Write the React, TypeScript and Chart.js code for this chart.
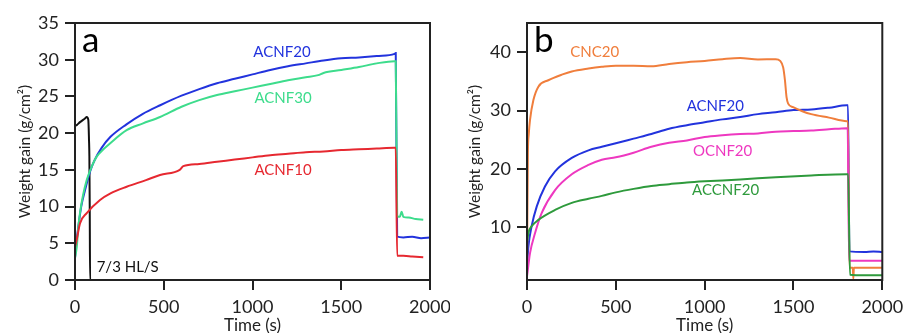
import React, { useEffect, useRef } from "react";
import { Chart, registerables } from "chart.js";
Chart.register(...registerables);

const FONT = "Lato, 'Open Sans', sans-serif";
const INK = "#222";

type P = [number, number];

// shared ticks
const xTicks = [0, 500, 1000, 1500, 2000];
const yTicksA = [0, 5, 10, 15, 20, 25, 30, 35];
const yTicksB = [10, 20, 30, 40];

// Panel a series (time s, weight gain g/cm2)
const acnf20A: P[] = [[0,3],[5,4.5],[12,6],[20,7.5],[35,10],[56,12.2],[85,14.8],[110,16.3],[150,18.0],[200,19.5],[290,21.2],[380,22.6],[480,23.8],[600,25.1],[700,26.0],[800,26.8],[900,27.4],[1000,28.0],[1100,28.6],[1200,29.1],[1300,29.5],[1400,29.9],[1500,30.2],[1600,30.3],[1700,30.5],[1800,30.8],[1807,30.9],[1815,5.9],[1850,5.8],[1900,5.9],[1950,5.7],[2000,5.8]];
const acnf30A: P[] = [[0,3],[10,4.5],[18,7],[28,9.1],[45,11.5],[66,13.6],[90,15.2],[122,16.8],[160,17.8],[197,18.6],[291,20.4],[380,21.3],[479,22.2],[600,23.6],[700,24.5],[800,25.2],[900,25.7],[1000,26.2],[1100,26.7],[1200,27.2],[1300,27.6],[1370,27.9],[1400,28.2],[1500,28.6],[1600,29.0],[1700,29.5],[1800,29.8],[1807,29.8],[1815,8.7],[1830,8.6],[1840,9.3],[1850,8.6],[1880,8.5],[1920,8.3],[1962,8.2]];
const acnf10A: P[] = [[0,4.5],[9,5.4],[28,7.7],[66,9.1],[141,10.9],[200,11.8],[291,12.7],[400,13.6],[479,14.3],[590,15.0],[610,15.5],[700,15.8],[800,16.1],[900,16.4],[1000,16.7],[1100,17.0],[1200,17.2],[1300,17.4],[1400,17.5],[1500,17.7],[1600,17.8],[1700,17.9],[1800,18.0],[1807,18.0],[1815,3.3],[1850,3.3],[1900,3.2],[1962,3.1]];
const hlsA: P[] = [[0,21],[10,21.1],[28,21.5],[56,22.0],[66,22.2],[75,21.8],[79,19],[81,16.8],[83,10],[85,0],[197,0]];

// Panel b series
const cnc20B: P[] = [[0,1.6],[2,12],[5,22.7],[10,26],[17,28.4],[36,31.8],[64,34.1],[120,35.2],[200,36.2],[252,36.7],[346,37.2],[421,37.5],[500,37.7],[600,37.7],[700,37.6],[800,38.0],[900,38.3],[1000,38.5],[1100,38.8],[1200,39.0],[1300,38.75],[1400,38.8],[1425,38.5],[1442,37.4],[1452,35.2],[1461,32.3],[1470,31.2],[1498,30.6],[1550,29.9],[1600,29.4],[1700,28.8],[1800,28.2],[1807,28.2],[1815,3.1],[1834,3.1],[1837,1.2],[1840,3.1],[1900,3.1],[2000,3.1]];
const acnf20B: P[] = [[0,3.3],[8,6.75],[26,10.2],[55,13.6],[101,17],[158,19.6],[252,21.9],[346,23.2],[421,23.8],[500,24.4],[600,25.2],[700,26.0],[800,26.9],[900,27.5],[1000,28.0],[1100,28.5],[1200,28.9],[1300,29.4],[1400,29.7],[1500,30.1],[1600,30.2],[1700,30.5],[1800,30.9],[1807,30.9],[1815,5.9],[1900,5.8],[1950,5.9],[2000,5.8]];
const ocnf20B: P[] = [[0,1.6],[17,5.6],[45,9.0],[83,12.5],[158,16.4],[252,19.1],[346,20.7],[421,21.6],[500,22.0],[600,22.8],[700,23.8],[800,24.5],[900,24.9],[1000,25.5],[1100,25.8],[1200,26.0],[1300,26.1],[1400,26.4],[1500,26.5],[1600,26.6],[1700,26.8],[1800,27.0],[1805,27.0],[1813,4.3],[1900,4.3],[2000,4.3]];
const accnf20B: P[] = [[0,7.5],[10,9.3],[26,10.2],[64,11.3],[158,13.0],[252,14.2],[346,14.9],[421,15.4],[500,16.0],[600,16.6],[700,17.1],[800,17.4],[900,17.7],[1000,17.9],[1200,18.2],[1400,18.6],[1600,18.9],[1800,19.1],[1808,19.1],[1818,1.9],[1900,1.8],[2000,1.8]];

const C = {
  blue: "#2233dd",
  mint: "#3ddc8c",
  red: "#e62830",
  black: "#111111",
  orange: "#f07e3c",
  magenta: "#ee38c0",
  green: "#2e9a3c",
};

type Lbl = { text: string; color: string; t: number; w: number; align: CanvasTextAlign };

const labelsA: Lbl[] = [
  { text: "ACNF20", color: C.blue, t: 1166, w: 31.0, align: "center" },
  { text: "ACNF30", color: C.mint, t: 1172, w: 24.8, align: "center" },
  { text: "ACNF10", color: C.red, t: 1172, w: 15.0, align: "center" },
  { text: "7/3 HL/S", color: C.black, t: 122, w: 1.8, align: "left" },
];
const labelsB: Lbl[] = [
  { text: "CNC20", color: C.orange, t: 381, w: 40.0, align: "center" },
  { text: "ACNF20", color: C.blue, t: 1060, w: 30.7, align: "center" },
  { text: "OCNF20", color: C.magenta, t: 1101, w: 23.0, align: "center" },
  { text: "ACCNF20", color: C.green, t: 1118, w: 16.4, align: "center" },
];

const framePlugin = {
  id: "frame",
  afterDatasetsDraw(chart: any, _args: any, opts: any) {
    const { ctx, chartArea: a, scales } = chart;
    ctx.save();
    ctx.strokeStyle = INK;
    ctx.lineWidth = 2;
    ctx.strokeRect(a.left, a.top, a.right - a.left, a.bottom - a.top);
    ctx.font = `15px ${FONT}`;
    ctx.textBaseline = "middle";
    for (const l of opts.labels as Lbl[]) {
      ctx.fillStyle = l.color;
      ctx.textAlign = l.align;
      ctx.fillText(l.text, scales.x.getPixelForValue(l.t), scales.y.getPixelForValue(l.w));
    }
    ctx.fillStyle = "#000";
    ctx.textAlign = "left";
    ctx.textBaseline = "alphabetic";
    ctx.font = `35px ${FONT}`;
    ctx.fillText(opts.letter, a.left + 7, a.top + 29);
    ctx.restore();
  },
};

function ds(pts: P[], color: string) {
  return {
    data: pts.map(([x, y]) => ({ x, y })),
    borderColor: color,
    backgroundColor: color,
    borderWidth: 2,
    pointRadius: 0,
    fill: false,
    cubicInterpolationMode: "monotone" as const,
  };
}

function makeConfig(datasets: any[], yMin: number, yMax: number, yTicks: number[], yWidth: number, labels: Lbl[], letter: string, padRight: number): any {
  const tickFont = { family: FONT, size: 18 };
  const grid = { display: true, drawOnChartArea: false, drawTicks: true, tickLength: 10, color: INK, lineWidth: 2 };
  const plain = (v: any) => String(v);
  return {
    type: "line",
    data: { datasets },
    plugins: [framePlugin],
    options: {
      animation: false,
      responsive: false,
      devicePixelRatio: 1,
      layout: { padding: { left: 0, right: padRight, top: 23, bottom: 0 } },
      plugins: { legend: { display: false }, tooltip: { enabled: false }, frame: { labels, letter } },
      scales: {
        x: {
          type: "linear",
          min: 0,
          max: 2000,
          afterBuildTicks: (s: any) => { s.ticks = xTicks.map((v) => ({ value: v })); },
          ticks: { font: tickFont, color: INK, padding: 6, maxRotation: 0, autoSkip: false, callback: plain },
          grid,
          border: { display: true, color: INK, width: 2 },
          title: { display: true, text: "Time (s)", color: INK, font: { family: FONT, size: 17, lineHeight: 1 }, padding: { top: 0, bottom: -1 } },
          afterFit: (s: any) => { s.height = 53; s.paddingLeft = 0; s.paddingRight = 0; },
        },
        y: {
          type: "linear",
          min: yMin,
          max: yMax,
          afterBuildTicks: (s: any) => { s.ticks = yTicks.map((v) => ({ value: v })); },
          ticks: { font: tickFont, color: INK, padding: 6, autoSkip: false, callback: plain },
          grid,
          border: { display: true, color: INK, width: 2 },
          title: { display: true, text: "Weight gain (g/cm²)", color: INK, font: { family: FONT, size: 15.5, lineHeight: 1 }, padding: { top: 17, bottom: 0 } },
          afterFit: (s: any) => { s.width = yWidth; s.paddingTop = 0; s.paddingBottom = 0; },
        },
      },
    },
  };
}

function Panel({ config, left, width }: { config: () => any; left: number; width: number }) {
  const ref = useRef<HTMLCanvasElement>(null);
  useEffect(() => {
    if (!ref.current) return;
    const chart = new Chart(ref.current, config());
    return () => chart.destroy();
  }, []);
  return (
    <div style={{ position: "absolute", left, top: 0, width, height: 333 }}>
      <canvas ref={ref} width={width} height={333} style={{ display: "block" }} />
    </div>
  );
}

export default function App() {
  const cfgA = () =>
    makeConfig(
      [ds(acnf10A, C.red), ds(acnf30A, C.mint), ds(acnf20A, C.blue), ds(hlsA, C.black)],
      0, 35, yTicksA, 75, labelsA, "a", 20
    );
  const cfgB = () =>
    makeConfig(
      [ds(accnf20B, C.green), ds(ocnf20B, C.magenta), ds(cnc20B, C.orange), ds(acnf20B, C.blue)],
      1, 45, yTicksB, 77, labelsB, "b", 20.7
    );
  return (
    <div style={{ position: "absolute", left: 0, top: 0, width: 903, height: 333, background: "#fff", overflow: "hidden" }}>
      <Panel config={cfgA} left={0} width={450} />
      <Panel config={cfgB} left={450} width={453} />
    </div>
  );
}
